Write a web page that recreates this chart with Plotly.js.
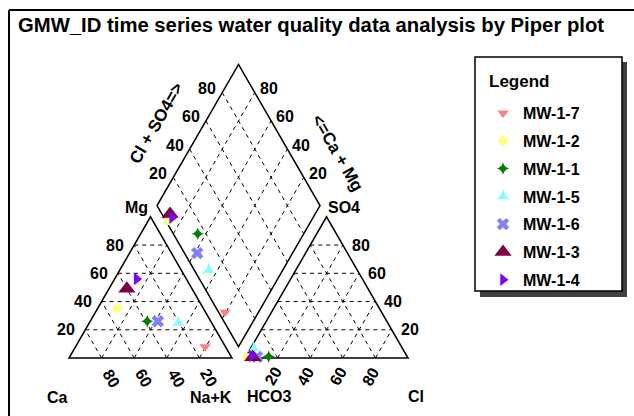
<!DOCTYPE html>
<html><head><meta charset="utf-8">
<script src="https://cdn.plot.ly/plotly-3.0.1.min.js"></script>
<style>html,body{margin:0;padding:0;background:#fff}#chart{width:634px;height:416px}</style>
</head><body><div id="chart"></div>
<script>
// ---- data (percent of meq) ----
const wells = ['MW-1-7','MW-1-2','MW-1-1','MW-1-5','MW-1-6','MW-1-3','MW-1-4'];
const Ca   = [12.5, 53, 39, 20.5, 32.5, 40, 30.5];
const Mg   = [8, 35, 26, 25, 26, 49, 56];
const NaK  = [79.5, 12, 35, 54.5, 41.5, 11, 13.5];
const HCO3 = [96.1, 98.7, 85, 91.2, 92.2, 95, 95];
const Cl   = [2.3, 1.0, 14, 2.0, 7.0, 4.5, 3.5];
const SO4  = [1.6, 0.3, 1.0, 6.8, 0.8, 0.5, 1.5];
const tickVals = [20, 40, 60, 80];
const chartTitle = 'GMW_ID time series water quality data analysis by Piper plot';

// ---- styles ----
const colors  = ['#FF8080','#FFFF80','#008000','#80FFFF','#8080FF','#800040','#8000FF'];
const symbols = ['triangle-down','circle','star-diamond','star-triangle-up','x','triangle-up','triangle-right'];
const sizes   = [10, 9, 9, 10, 11, 15, 11];

// ---- Piper geometry ----
const G = 8, H = Math.sqrt(3)/2;
const cat = (n, m) => [n + m/2, H*m];
const an  = (cl, s) => [100 + G + cl + s/2, H*s];
const dia = (n, a) => [(100+G)/2 + (a+n)/2, H*(100 + G + a - n)];
// pixel -> data helper (for text placement only)
const SC = 1.63, X0 = 69, Y0 = 358;
const P = (px, py) => [(px - X0)/SC, (Y0 - py)/SC];

const traces = wells.map((w, i) => {
  const tc = Ca[i] + Mg[i] + NaK[i];
  const ta = HCO3[i] + Cl[i] + SO4[i];
  const n = 100*NaK[i]/tc, m = 100*Mg[i]/tc;
  const cl = 100*Cl[i]/ta, s = 100*SO4[i]/ta;
  const p1 = cat(n, m), p2 = an(cl, s), p3 = dia(n, cl + s);
  return {
    type: 'scatter', mode: 'markers', name: w, legendgroup: 'g' + i,
    x: [p1[0], p2[0], p3[0]], y: [p1[1], p2[1], p3[1]],
    marker: {color: colors[i], symbol: symbols[i], size: sizes[i], line: {width: 0}},
    hoverinfo: 'name'
  };
});

const shapes = [];
const line = (a, b, dash) => shapes.push({type: 'line', xref: 'x', yref: 'y',
  x0: a[0], y0: a[1], x1: b[0], y1: b[1], layer: 'below',
  line: {color: '#000', width: dash ? 1 : 1.5, dash: dash ? '4px,4px' : 'solid'}});
const poly = pts => shapes.push({type: 'path', xref: 'x', yref: 'y', layer: 'below',
  path: 'M' + pts.map(p => p[0] + ',' + p[1]).join('L') + 'Z',
  line: {color: '#000', width: 1.5}});

tickVals.forEach(t => {
  line(cat(0, t), cat(100 - t, t), true);
  line(cat(t, 0), cat(t, 100 - t), true);
  line(cat(100 - t, 0), cat(0, 100 - t), true);
  line(an(0, t), an(100 - t, t), true);
  line(an(t, 0), an(t, 100 - t), true);
  line(an(100 - t, 0), an(0, 100 - t), true);
  line(dia(0, t), dia(100, t), true);
  line(dia(t, 0), dia(t, 100), true);
});
poly([cat(0,0), cat(100,0), cat(0,100)]);
poly([an(0,0), an(100,0), an(0,100)]);
poly([dia(100,0), dia(100,100), dia(0,100), dia(0,0)]);

// frame & legend box (paper coords)
const px = v => v/634, py = v => 1 - v/416;
shapes.push({type:'line', xref:'paper', yref:'paper', x0:px(9), y0:py(10), x1:1, y1:py(10), line:{color:'#000', width:2}});
shapes.push({type:'line', xref:'paper', yref:'paper', x0:px(9), y0:0, x1:px(9), y1:py(10), line:{color:'#000', width:2}});
shapes.push({type:'rect', xref:'paper', yref:'paper', x0:px(480), y0:py(297), x1:px(627), y1:py(62), fillcolor:'#404040', line:{width:0}});
shapes.push({type:'rect', xref:'paper', yref:'paper', x0:px(475), y0:py(291), x1:px(622), y1:py(57), fillcolor:'#fff', line:{color:'#000', width:1.5}});

const tf = {family: 'Liberation Sans, Arial, sans-serif', size: 16, color: '#000', weight: 'bold'};
const ann = [];
const lab = (p, text, xs, ys, ang, sz) => ann.push({xref:'x', yref:'y', x: p[0], y: p[1], text: text,
  showarrow: false, xshift: xs, yshift: ys, textangle: ang || 0,
  font: sz ? Object.assign({}, tf, {size: sz}) : tf, xanchor:'center', yanchor:'middle'});

tickVals.forEach(t => {
  lab(cat(0, t), String(t), -19, 0);
  lab(cat(100 - t, 0), String(t), 10, -20, 60);
  lab(an(100 - t, t), String(t), 18, 0);
  lab(an(t, 0), String(t), -5, -18, -60);
  lab(dia(0, t), String(t), -15, 4);
  lab(dia(100 - t, 100), String(t), 14, 4);
});
lab(cat(0,100), 'Mg', -14, 9);
lab(an(0,100), 'SO4', 17, 9);
lab(cat(0,0), 'Ca', -12, -39);
lab(cat(100,0), 'Na+K', -21, -39);
lab(an(0,0), 'HCO3', 24, -38);
lab(an(100,0), 'Cl', 8, -38);
lab(P(156, 123), 'Cl + SO4=>', 0, 0, -60, 17);
lab(P(338, 153), '<=Ca + Mg', 0, 0, 60, 17);

ann.push({xref:'paper', yref:'paper', x: px(16), y: py(25), xanchor:'left', yanchor:'middle',
  text: chartTitle, showarrow:false, font:{family:'Liberation Sans, Arial, sans-serif', size:20.3, color:'#000', weight:'bold'}});
ann.push({xref:'paper', yref:'paper', x: px(487), y: py(82), xanchor:'left', yanchor:'middle',
  text: 'Legend', showarrow:false, font:{family:'Liberation Sans, Arial, sans-serif', size:17, color:'#000', weight:'bold'}});

const layout = {
  width: 634, height: 416, autosize: false,
  margin: {l:0, r:0, t:0, b:0, pad:0},
  paper_bgcolor: '#fff', plot_bgcolor: '#fff',
  xaxis: {range: [-X0/SC, (634 - X0)/SC], visible: false, fixedrange: true},
  yaxis: {range: [(Y0 - 416)/SC, Y0/SC], visible: false, fixedrange: true},
  showlegend: true,
  legend: {x: px(483), xanchor: 'left', y: py(96), yanchor: 'top', bgcolor: 'rgba(0,0,0,0)',
    borderwidth: 0, tracegroupgap: 4, traceorder: 'grouped',
    font: {family: 'Liberation Sans, Arial, sans-serif', size: 16, color: '#000', weight: 'bold'}},
  shapes: shapes, annotations: ann
};
Plotly.newPlot('chart', traces, layout, {displayModeBar: false, staticPlot: true});
</script></body></html>
